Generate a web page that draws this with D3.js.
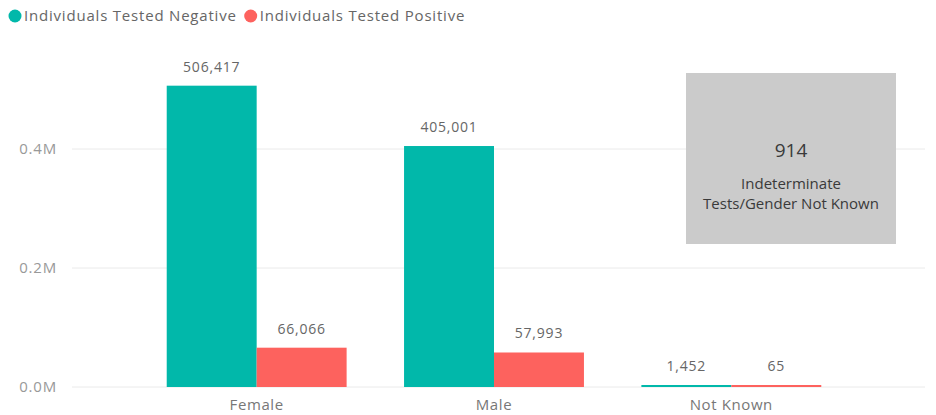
<!DOCTYPE html>
<html><head><meta charset="utf-8">
<script src="https://cdn.jsdelivr.net/npm/d3@7"></script>
<style>body{margin:0;background:#fff;} svg{display:block;font-family:"Open Sans",sans-serif;}</style>
</head><body>
<svg id="c" width="936" height="415"></svg>
<script>
const categories = ["Female", "Male", "Not Known"];
const seriesNames = ["Individuals Tested Negative", "Individuals Tested Positive"];
const negative = [506417, 405001, 1452];
const positive = [66066, 57993, 65];
const yTicks = [0, 200000, 400000];
const yTickLabels = ["0.0M", "0.2M", "0.4M"];
const cardValue = "914";
const cardLines = ["Indeterminate", "Tests/Gender Not Known"];
const colors = ["#01B8AA", "#FD625E"];

const svg = d3.select("#c");
const y = d3.scaleLinear().domain([0, 400000]).range([387, 149]);
const x = d3.scaleBand().domain(categories).range([138, 850]).paddingInner(0.242).paddingOuter(0.121);
const xs = d3.scaleBand().domain(seriesNames).range([0, x.bandwidth()]);

// gridlines
svg.append("g").selectAll("line").data(yTicks).join("line")
  .attr("x1", 72).attr("x2", 925).attr("y1", d => y(d)).attr("y2", d => y(d))
  .attr("stroke", "#eaeaea").attr("stroke-width", 1);
svg.append("g").selectAll("text").data(yTicks).join("text")
  .attr("x", 57).attr("y", d => y(d)).attr("dy", "0.35em").attr("text-anchor", "end")
  .attr("fill", "#999").attr("font-size", 15).attr("letter-spacing", 0.8).text((d, i) => yTickLabels[i]);

// card
const card = svg.append("g");
card.append("rect").attr("x", 686).attr("y", 73).attr("width", 210).attr("height", 171).attr("fill", "#cbcbcb");
card.append("text").attr("x", 791).attr("y", 157).attr("text-anchor", "middle").attr("fill", "#3a3a3a").attr("font-size", 19).text(cardValue);
cardLines.forEach((t, i) => card.append("text").attr("x", 791).attr("y", 189 + i * 20).attr("text-anchor", "middle").attr("fill", "#3a3a3a").attr("font-size", 15).text(t));

const data = categories.map((c, i) => ({c, vals: [negative[i], positive[i]]}));
const groups = svg.append("g").selectAll("g").data(data).join("g").attr("transform", d => `translate(${x(d.c)},0)`);
groups.selectAll("rect").data(d => d.vals.map((v, j) => ({v, j}))).join("rect")
  .attr("x", d => xs(seriesNames[d.j])).attr("width", xs.bandwidth())
  .attr("y", d => Math.min(y(d.v), y(0) - 2)).attr("height", d => Math.max(y(0) - y(d.v), 2))
  .attr("fill", d => colors[d.j]);
groups.selectAll("text").data(d => d.vals.map((v, j) => ({v, j}))).join("text")
  .attr("x", d => xs(seriesNames[d.j]) + xs.bandwidth() / 2)
  .attr("y", d => Math.min(y(d.v), y(0) - 2) - 14)
  .attr("text-anchor", "middle").attr("fill", "#666").attr("font-size", 14).attr("letter-spacing", 0.8)
  .text(d => d3.format(",")(d.v));

// x labels
svg.append("g").selectAll("text").data(categories).join("text")
  .attr("x", d => x(d) + x.bandwidth() / 2).attr("y", 410).attr("text-anchor", "middle")
  .attr("fill", "#777").attr("font-size", 15).attr("letter-spacing", 0.6).text(d => d);

// legend
const lg = svg.append("g");
let lx = 15;
seriesNames.forEach((s, i) => {
  lg.append("circle").attr("cx", lx).attr("cy", 16).attr("r", 6.5).attr("fill", colors[i]);
  const t = lg.append("text").attr("x", lx + 9).attr("y", 16).attr("dy", "0.35em").attr("fill", "#666")
    .attr("font-size", 15).attr("letter-spacing", 0.8).text(s);
  lx += 9 + t.node().getComputedTextLength() + 14;
});
</script>
</body></html>
